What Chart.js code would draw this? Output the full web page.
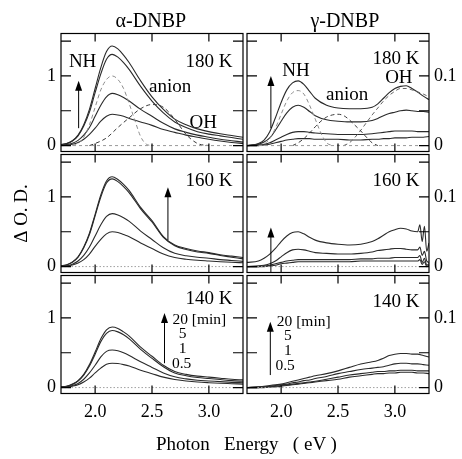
<!DOCTYPE html>
<html>
<head>
<meta charset="utf-8">
<script src="https://cdn.jsdelivr.net/npm/chart.js@4.4.0/dist/chart.umd.min.js"></script>
<style>
  body { margin: 0; background: #fff; }
  #fig { position: relative; width: 462px; height: 459px; background: #fff; }
  #fig canvas { position: absolute; }
  #xlabel { position: absolute; left: 156px; top: 433px; font: 19px 'Liberation Serif', serif; line-height: 21px; white-space: pre; color: #000; }
</style>
</head>
<body>
<div id="fig">
  <canvas id="a180" width="244" height="153" style="left:0;top:0"></canvas>
  <canvas id="g180" width="216" height="153" style="left:246px;top:0"></canvas>
  <canvas id="a160" width="244" height="121" style="left:0;top:153px"></canvas>
  <canvas id="g160" width="216" height="121" style="left:246px;top:153px"></canvas>
  <canvas id="a140" width="244" height="185" style="left:0;top:274px"></canvas>
  <canvas id="g140" width="216" height="185" style="left:246px;top:274px"></canvas>
  <div id="xlabel">Photon   Energy   ( eV )</div>
</div>
<script>
// ticks
const X_TICKS = [2.0, 2.5, 3.0];
const Y_TICKS_A = [0, 0.5, 1, 1.5];
const Y_TICKS_G = [0, 0.05, 0.1, 0.15];

// photon energy grids (eV)
const ENERGY_A = [1.70, 1.75, 1.80, 1.85, 1.90, 1.95, 2.00, 2.05, 2.10, 2.15, 2.20, 2.25, 2.30, 2.40, 2.50, 2.60, 2.70, 2.80, 2.90, 3.00, 3.10, 3.20, 3.30];
const ENERGY_G = [1.70, 1.80, 1.85, 1.90, 1.95, 2.00, 2.05, 2.10, 2.15, 2.20, 2.25, 2.30, 2.40, 2.50, 2.60, 2.70, 2.80, 2.85, 2.90, 2.95, 3.00, 3.05, 3.10, 3.15, 3.20, 3.25, 3.30];
const ENERGY_G160 = [1.70, 1.80, 1.85, 1.90, 1.95, 2.00, 2.05, 2.10, 2.15, 2.20, 2.25, 2.30, 2.40, 2.50, 2.60, 2.70, 2.80, 2.85, 2.90, 2.95, 3.00, 3.05, 3.10, 3.15, 3.20, 3.22, 3.24, 3.26, 3.28, 3.30];
const BASE_E = [1.7, 3.3];
const BASE = [0, 0];

// alpha-DNBP, 20 / 5 / 1 / 0.5 min
const A180_20 = [0.015, 0.03, 0.07, 0.15, 0.30, 0.52, 0.82, 1.12, 1.35, 1.43, 1.39, 1.30, 1.19, 0.93, 0.70, 0.52, 0.38, 0.30, 0.24, 0.20, 0.17, 0.145, 0.12];
const A180_5 = [0.015, 0.028, 0.065, 0.14, 0.28, 0.48, 0.76, 1.03, 1.24, 1.31, 1.27, 1.19, 1.09, 0.85, 0.64, 0.47, 0.34, 0.26, 0.20, 0.165, 0.14, 0.115, 0.09];
const A180_1 = [0.01, 0.015, 0.035, 0.075, 0.15, 0.26, 0.42, 0.58, 0.70, 0.75, 0.73, 0.69, 0.64, 0.52, 0.42, 0.32, 0.24, 0.19, 0.15, 0.12, 0.09, 0.07, 0.05];
const A180_05 = [0.005, 0.008, 0.02, 0.045, 0.09, 0.16, 0.25, 0.35, 0.42, 0.45, 0.44, 0.42, 0.39, 0.34, 0.29, 0.23, 0.19, 0.15, 0.12, 0.09, 0.065, 0.045, 0.03];

const A160_20 = [0.01, 0.025, 0.065, 0.14, 0.28, 0.48, 0.75, 1.03, 1.23, 1.29, 1.25, 1.18, 1.09, 0.85, 0.66, 0.43, 0.31, 0.26, 0.225, 0.20, 0.17, 0.15, 0.13];
const A160_5 = [0.01, 0.024, 0.06, 0.135, 0.27, 0.46, 0.73, 1.00, 1.20, 1.26, 1.22, 1.15, 1.06, 0.83, 0.64, 0.42, 0.30, 0.245, 0.21, 0.19, 0.16, 0.135, 0.11];
const A160_1 = [0.005, 0.012, 0.035, 0.08, 0.16, 0.28, 0.44, 0.60, 0.72, 0.76, 0.74, 0.70, 0.65, 0.51, 0.39, 0.27, 0.19, 0.155, 0.135, 0.12, 0.10, 0.088, 0.075];
const A160_05 = [0.003, 0.008, 0.022, 0.05, 0.10, 0.18, 0.29, 0.39, 0.47, 0.50, 0.49, 0.46, 0.43, 0.34, 0.26, 0.18, 0.13, 0.105, 0.09, 0.08, 0.07, 0.062, 0.055];

const A140_20 = [0.01, 0.02, 0.05, 0.10, 0.19, 0.33, 0.51, 0.70, 0.83, 0.87, 0.85, 0.80, 0.74, 0.58, 0.45, 0.32, 0.23, 0.19, 0.165, 0.15, 0.135, 0.12, 0.11];
const A140_5 = [0.01, 0.02, 0.045, 0.095, 0.18, 0.31, 0.48, 0.66, 0.78, 0.82, 0.80, 0.76, 0.70, 0.55, 0.42, 0.30, 0.21, 0.17, 0.145, 0.13, 0.115, 0.10, 0.09];
const A140_1 = [0.005, 0.012, 0.03, 0.06, 0.12, 0.21, 0.32, 0.44, 0.52, 0.54, 0.53, 0.50, 0.46, 0.37, 0.29, 0.21, 0.155, 0.125, 0.105, 0.095, 0.085, 0.075, 0.07];
const A140_05 = [0.003, 0.008, 0.02, 0.04, 0.08, 0.135, 0.21, 0.28, 0.335, 0.35, 0.345, 0.33, 0.31, 0.25, 0.20, 0.15, 0.115, 0.095, 0.08, 0.07, 0.062, 0.056, 0.05];

// alpha 180 K band components
const A180_NH_E = [1.80, 1.85, 1.90, 1.95, 2.00, 2.05, 2.10, 2.15, 2.20, 2.25, 2.30, 2.35, 2.40, 2.45, 2.50];
const A180_NH = [0, 0.03, 0.12, 0.30, 0.55, 0.80, 0.95, 1.00, 0.95, 0.82, 0.60, 0.36, 0.13, 0.02, 0];
const A180_AN_E = [1.95, 2.00, 2.10, 2.20, 2.30, 2.40, 2.50, 2.60, 2.70, 2.80, 2.90, 3.00];
const A180_AN = [0, 0.03, 0.11, 0.26, 0.40, 0.53, 0.59, 0.55, 0.38, 0.16, 0.03, 0];

// gamma-DNBP, 20 / 5 / 1 / 0.5 min
const G180_20 = [0.000, 0.003, 0.008, 0.020, 0.040, 0.062, 0.080, 0.090, 0.093, 0.088, 0.078, 0.068, 0.058, 0.054, 0.053, 0.053, 0.055, 0.060, 0.068, 0.076, 0.082, 0.085, 0.086, 0.082, 0.077, 0.071, 0.066];
const G180_5 = [0.000, 0.002, 0.005, 0.011, 0.022, 0.035, 0.047, 0.055, 0.058, 0.055, 0.049, 0.043, 0.037, 0.035, 0.034, 0.034, 0.036, 0.039, 0.043, 0.046, 0.048, 0.050, 0.051, 0.050, 0.049, 0.049, 0.048];
const G180_1 = [0.000, 0.001, 0.002, 0.004, 0.008, 0.012, 0.016, 0.019, 0.020, 0.020, 0.019, 0.018, 0.017, 0.016, 0.016, 0.016, 0.017, 0.018, 0.019, 0.020, 0.021, 0.021, 0.021, 0.021, 0.020, 0.020, 0.020];
const G180_05 = [0.000, 0.000, 0.001, 0.002, 0.004, 0.006, 0.008, 0.009, 0.010, 0.010, 0.010, 0.009, 0.009, 0.009, 0.008, 0.008, 0.009, 0.009, 0.010, 0.010, 0.011, 0.011, 0.011, 0.012, 0.012, 0.012, 0.013];

const G160_20 = [0.006, 0.008, 0.012, 0.018, 0.026, 0.036, 0.044, 0.049, 0.050, 0.047, 0.042, 0.038, 0.034, 0.032, 0.031, 0.032, 0.036, 0.040, 0.045, 0.050, 0.053, 0.055, 0.054, 0.051, 0.050, 0.060, 0.036, 0.058, 0.022, 0.034];
const G160_5 = [0.000, 0.001, 0.002, 0.004, 0.008, 0.014, 0.020, 0.024, 0.025, 0.024, 0.022, 0.020, 0.019, 0.018, 0.018, 0.019, 0.021, 0.023, 0.024, 0.025, 0.026, 0.026, 0.025, 0.024, 0.024, 0.028, 0.016, 0.022, 0.008, 0.006];
const G160_1 = [0.000, 0.000, 0.001, 0.002, 0.004, 0.006, 0.008, 0.009, 0.010, 0.010, 0.010, 0.010, 0.010, 0.010, 0.010, 0.011, 0.011, 0.012, 0.012, 0.012, 0.013, 0.013, 0.013, 0.013, 0.013, 0.016, 0.006, 0.012, 0.002, 0.004];
const G160_05 = [0.000, 0.000, 0.000, 0.001, 0.002, 0.004, 0.005, 0.006, 0.007, 0.007, 0.007, 0.007, 0.007, 0.007, 0.007, 0.008, 0.008, 0.008, 0.008, 0.008, 0.008, 0.008, 0.008, 0.008, 0.008, 0.010, 0.003, 0.007, 0.000, 0.002];

const G140_20 = [0.000, 0.001, 0.002, 0.003, 0.004, 0.005, 0.007, 0.009, 0.011, 0.013, 0.015, 0.017, 0.020, 0.024, 0.029, 0.034, 0.037, 0.039, 0.042, 0.046, 0.048, 0.049, 0.049, 0.048, 0.048, 0.046, 0.044];
const G140_5 = [0.000, 0.001, 0.001, 0.002, 0.003, 0.004, 0.005, 0.007, 0.008, 0.010, 0.011, 0.013, 0.016, 0.020, 0.023, 0.026, 0.028, 0.029, 0.030, 0.032, 0.034, 0.035, 0.035, 0.034, 0.034, 0.033, 0.032];
const G140_1 = [0.000, 0.000, 0.001, 0.001, 0.002, 0.003, 0.004, 0.005, 0.006, 0.007, 0.008, 0.009, 0.012, 0.015, 0.018, 0.020, 0.022, 0.023, 0.023, 0.024, 0.024, 0.025, 0.025, 0.025, 0.024, 0.024, 0.024];
const G140_05 = [0.000, 0.000, 0.000, 0.001, 0.001, 0.002, 0.003, 0.004, 0.005, 0.006, 0.007, 0.008, 0.010, 0.012, 0.015, 0.017, 0.019, 0.020, 0.020, 0.021, 0.021, 0.022, 0.022, 0.022, 0.021, 0.021, 0.020];

// gamma 180 K band components
const G180_NH_E = [1.80, 1.85, 1.90, 1.95, 2.00, 2.05, 2.10, 2.15, 2.20, 2.25, 2.30, 2.35, 2.40, 2.45];
const G180_NH = [0, 0.002, 0.010, 0.025, 0.045, 0.064, 0.076, 0.079, 0.074, 0.058, 0.038, 0.018, 0.004, 0];
const G180_AN_E = [2.10, 2.15, 2.20, 2.25, 2.30, 2.35, 2.40, 2.45, 2.50, 2.55, 2.60, 2.65, 2.70, 2.75, 2.80, 2.85];
const G180_AN = [0, 0.004, 0.010, 0.018, 0.027, 0.035, 0.041, 0.044, 0.045, 0.043, 0.037, 0.029, 0.021, 0.012, 0.004, 0];
const G180_OH_E = [2.55, 2.60, 2.65, 2.70, 2.75, 2.80, 2.85, 2.90, 2.95, 3.00, 3.05, 3.10, 3.15, 3.20, 3.25, 3.30];
const G180_OH = [0, 0.004, 0.012, 0.022, 0.033, 0.044, 0.054, 0.064, 0.072, 0.078, 0.082, 0.082, 0.080, 0.077, 0.074, 0.070];

const SERIF = "'Liberation Serif', serif";

function curve(xs, ys, color, width, dash) {
  return {
    data: xs.map((x, i) => ({ x: x, y: ys[i] })),
    borderColor: color,
    borderWidth: width,
    borderDash: dash || [],
    pointRadius: 0,
    fill: false,
    cubicInterpolationMode: 'monotone'
  };
}

function series(xs, list) {
  return list.map(ys => curve(xs, ys, '#2a2a2a', 1.1));
}

// frame, inward ticks, arrows and labels
function decoPlugin(yTicks, texts, arrows) {
  return {
    id: 'deco',
    afterDraw(chart) {
      const { ctx, chartArea: a } = chart;
      const x = chart.scales.x, y = chart.scales.y;
      ctx.save();
      ctx.strokeStyle = '#000';
      ctx.fillStyle = '#000';
      ctx.lineWidth = 1.2;
      ctx.strokeRect(a.left, a.top, a.right - a.left, a.bottom - a.top);
      ctx.beginPath();
      X_TICKS.forEach(v => {
        const px = x.getPixelForValue(v);
        ctx.moveTo(px, a.top); ctx.lineTo(px, a.top + 8);
        ctx.moveTo(px, a.bottom); ctx.lineTo(px, a.bottom - 8);
      });
      yTicks.forEach(v => {
        const py = y.getPixelForValue(v);
        ctx.moveTo(a.left, py); ctx.lineTo(a.left + 10, py);
        ctx.moveTo(a.right, py); ctx.lineTo(a.right - 10, py);
      });
      ctx.stroke();

      ctx.lineWidth = 1;
      arrows.forEach(ar => {
        const px = x.getPixelForValue(ar.x);
        const p0 = y.getPixelForValue(ar.from);
        const p1 = y.getPixelForValue(ar.to);
        ctx.beginPath();
        ctx.moveTo(px, p0); ctx.lineTo(px, p1 + 8);
        ctx.stroke();
        ctx.beginPath();
        ctx.moveTo(px, p1);
        ctx.lineTo(px - 3.5, p1 + 10);
        ctx.lineTo(px + 3.5, p1 + 10);
        ctx.closePath();
        ctx.fill();
      });

      ctx.textBaseline = 'middle';
      texts.forEach(t => {
        ctx.font = t.size + 'px ' + SERIF;
        ctx.textAlign = t.align || 'center';
        ctx.fillText(t.text, x.getPixelForValue(t.x), y.getPixelForValue(t.y));
      });
      ctx.restore();
    }
  };
}

function panel(id, o) {
  const alpha = o.col === 'a';
  const yTicks = alpha ? Y_TICKS_A : Y_TICKS_G;
  new Chart(document.getElementById(id), {
    type: 'line',
    data: { datasets: o.datasets },
    options: {
      responsive: false,
      animation: false,
      events: [],
      layout: { padding: { top: o.padTop, bottom: o.padBottom, left: alpha ? 0 : 1, right: alpha ? 1 : 0 } },
      plugins: { legend: { display: false }, tooltip: { enabled: false } },
      scales: {
        x: {
          type: 'linear',
          min: 1.7,
          max: 3.3,
          display: !!o.showX,
          grid: { display: false, drawTicks: false },
          border: { display: false },
          afterBuildTicks: s => { s.ticks = X_TICKS.map(v => ({ value: v })); },
          afterFit: s => { s.height = o.showX ? 30 : 0; s.paddingLeft = 0; s.paddingRight = 0; },
          ticks: {
            padding: 8,
            color: '#000',
            font: { family: SERIF, size: 18 },
            maxRotation: 0,
            callback: v => v.toFixed(1)
          }
        },
        y: {
          type: 'linear',
          position: alpha ? 'left' : 'right',
          min: alpha ? -0.085 : -0.0085,
          max: alpha ? 1.61 : 0.161,
          grid: { display: false, drawTicks: false },
          border: { display: false },
          title: {
            display: !!o.yTitle,
            text: o.yTitle || '',
            color: '#000',
            font: { family: SERIF, size: 19 },
            padding: { top: 11, bottom: 0 }
          },
          afterBuildTicks: s => { s.ticks = yTicks.map(v => ({ value: v })); },
          afterFit: s => { s.width = alpha ? 61 : 33; s.paddingTop = 0; s.paddingBottom = 0; },
          ticks: {
            padding: 5,
            color: '#000',
            font: { family: SERIF, size: 18 },
            callback: v => (v === 0 ? '0' : v === 1 ? '1' : v === 0.1 ? '0.1' : '')
          }
        }
      }
    },
    plugins: [decoPlugin(yTicks, o.texts, o.arrows)]
  });
}

const TIME_LABELS = ['20 [min]', '5', '1', '0.5'];

panel('a180', {
  col: 'a', padTop: 33.5, padBottom: 1.5,
  datasets: [
    curve(BASE_E, BASE, '#9a9a9a', 1, [3, 3]),
    curve(A180_NH_E, A180_NH, '#8c8c8c', 1, [4, 3]),
    curve(A180_AN_E, A180_AN, '#3a3a3a', 1, [4, 3]),
    ...series(ENERGY_A, [A180_20, A180_5, A180_1, A180_05])
  ],
  texts: [
    { text: 'α-DNBP', x: 2.49, y: 1.78, size: 20 },
    { text: 'NH', x: 1.89, y: 1.2, size: 19 },
    { text: '180 K', x: 3.0, y: 1.2, size: 19 },
    { text: 'anion', x: 2.66, y: 0.84, size: 19 },
    { text: 'OH', x: 2.95, y: 0.33, size: 19 }
  ],
  arrows: [{ x: 1.855, from: 0.25, to: 0.93 }]
});

panel('g180', {
  col: 'g', padTop: 33.5, padBottom: 1.5,
  datasets: [
    curve(BASE_E, BASE, '#9a9a9a', 1, [3, 3]),
    curve(G180_NH_E, G180_NH, '#8c8c8c', 1, [4, 3]),
    curve(G180_AN_E, G180_AN, '#3a3a3a', 1, [4, 3]),
    curve(G180_OH_E, G180_OH, '#666666', 1, [4, 3]),
    ...series(ENERGY_G, [G180_20, G180_5, G180_1, G180_05])
  ],
  texts: [
    { text: 'γ-DNBP', x: 2.56, y: 0.178, size: 20 },
    { text: 'NH', x: 2.13, y: 0.1076, size: 19 },
    { text: '180 K', x: 3.01, y: 0.124, size: 19 },
    { text: 'OH', x: 3.035, y: 0.0967, size: 19 },
    { text: 'anion', x: 2.58, y: 0.0727, size: 19 }
  ],
  arrows: [{ x: 1.91, from: 0.025, to: 0.1 }]
});

panel('a160', {
  col: 'a', padTop: 1.5, padBottom: 1.5, yTitle: 'Δ O. D.',
  datasets: [
    curve(BASE_E, BASE, '#a0a0a0', 1, [1.5, 2]),
    ...series(ENERGY_A, [A160_20, A160_5, A160_1, A160_05])
  ],
  texts: [{ text: '160 K', x: 3.0, y: 1.23, size: 19 }],
  arrows: [{ x: 2.64, from: 0.38, to: 1.14 }]
});

panel('g160', {
  col: 'g', padTop: 1.5, padBottom: 1.5,
  datasets: [
    curve(BASE_E, BASE, '#a0a0a0', 1, [1.5, 2]),
    ...series(ENERGY_G160, [G160_20, G160_5, G160_1, G160_05])
  ],
  texts: [{ text: '160 K', x: 3.01, y: 0.123, size: 19 }],
  arrows: [{ x: 1.91, from: -0.0085, to: 0.056 }]
});

panel('a140', {
  col: 'a', padTop: 1.5, padBottom: 35.5, showX: true,
  datasets: [
    curve(BASE_E, BASE, '#a0a0a0', 1, [1.5, 2]),
    ...series(ENERGY_A, [A140_20, A140_5, A140_1, A140_05])
  ],
  texts: [
    { text: '140 K', x: 3.0, y: 1.27, size: 19 },
    { text: TIME_LABELS[0], x: 2.68, y: 0.97, size: 15.5, align: 'left' },
    { text: TIME_LABELS[1], x: 2.77, y: 0.77, size: 15.5 },
    { text: TIME_LABELS[2], x: 2.77, y: 0.555, size: 15.5 },
    { text: TIME_LABELS[3], x: 2.76, y: 0.335, size: 15.5 }
  ],
  arrows: [{ x: 2.61, from: 0.35, to: 1.07 }]
});

panel('g140', {
  col: 'g', padTop: 1.5, padBottom: 35.5, showX: true,
  datasets: [
    curve(BASE_E, BASE, '#a0a0a0', 1, [1.5, 2]),
    ...series(ENERGY_G, [G140_20, G140_5, G140_1, G140_05])
  ],
  texts: [
    { text: '140 K', x: 3.01, y: 0.123, size: 19 },
    { text: TIME_LABELS[0], x: 1.962, y: 0.094, size: 15.5, align: 'left' },
    { text: TIME_LABELS[1], x: 2.06, y: 0.074, size: 15.5 },
    { text: TIME_LABELS[2], x: 2.06, y: 0.053, size: 15.5 },
    { text: TIME_LABELS[3], x: 2.035, y: 0.031, size: 15.5 }
  ],
  arrows: [{ x: 1.905, from: 0.018, to: 0.0947 }]
});
</script>
</body>
</html>
